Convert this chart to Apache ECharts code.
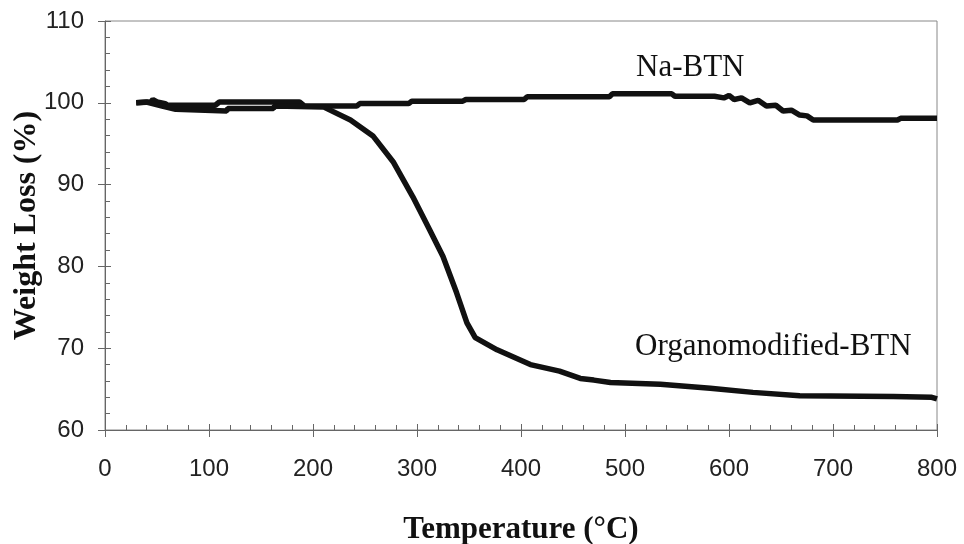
<!DOCTYPE html>
<html>
<head>
<meta charset="utf-8">
<script src="https://cdn.jsdelivr.net/npm/echarts@6/dist/echarts.min.js"></script>
<style>html,body{margin:0;padding:0;background:#fff}#c{width:964px;height:544px}</style>
</head>
<body>
<div id="c"></div>
<script>
// Na-BTN: [temperature °C, weight %]
const naTemp = [30,44,46,50,58,60,106,110,187,192,242,245,292,295,344,347,403,406,485,488,545,548,586,595,600,605,612,620,628,636,645,652,660,668,675,681,762,765,800];
const naWeight = [100,100.1,100.4,100.1,99.9,99.7,99.7,100.1,100.1,99.6,99.6,99.9,99.9,100.2,100.2,100.4,100.4,100.75,100.75,101.1,101.1,100.8,100.8,100.6,100.9,100.4,100.6,100.0,100.3,99.6,99.7,99.0,99.1,98.5,98.4,97.9,97.9,98.1,98.1];
// Organomodified-BTN
const orgTemp = [30,40,55,68,69,117,118,162,163,210,236,258,277,296,312,325,338,348,356,377,409,437,457,470,486,534,582,623,668,758,795,800];
const orgWeight = [100,100.1,99.6,99.2,99.0,99.0,99.3,99.3,99.6,99.5,97.9,95.9,92.8,88.5,84.5,81.2,76.8,73.1,71.3,69.8,68.0,67.2,66.3,66.1,65.8,65.6,65.1,64.6,64.2,64.1,64.0,63.8];
const xTicks = {min: 0, max: 800, interval: 100};
const yTicks = {min: 60, max: 110, interval: 10};
const seriesNames = ['Na-BTN', 'Organomodified-BTN'];

const pair = (xs, ys) => xs.map((x, i) => [x, ys[i]]);
const axisCol = '#666';
const chart = echarts.init(document.getElementById('c'));
chart.setOption({
  animation: false,
  grid: {left: 105, right: 27, top: 21, bottom: 114, containLabel: false, outerBoundsMode: 'none', show: true, borderColor: '#888', borderWidth: 1},
  xAxis: [{
    type: 'value', min: xTicks.min, max: xTicks.max, interval: xTicks.interval,
    name: 'Temperature (°C)', nameLocation: 'middle', nameGap: 84,
    nameTextStyle: {fontFamily: 'Liberation Serif', fontWeight: 'bold', fontSize: 31, color: '#111'},
    axisLine: {show: true, onZero: false, lineStyle: {color: axisCol, width: 1}},
    axisTick: {show: true, inside: false, length: 7, lineStyle: {color: axisCol}},
    axisLabel: {fontFamily: 'Liberation Sans', fontSize: 24, color: '#222', margin: 27},
    splitLine: {show: false}
  }, {
    type: 'value', position: 'bottom', min: xTicks.min, max: xTicks.max, interval: xTicks.interval,
    axisLine: {show: false}, axisLabel: {show: false},
    axisTick: {show: true, inside: true, length: 6, lineStyle: {color: axisCol}},
    minorTick: {show: true, splitNumber: 5, length: 5, lineStyle: {color: axisCol}},
    splitLine: {show: false}
  }],
  yAxis: [{
    type: 'value', min: yTicks.min, max: yTicks.max, interval: yTicks.interval,
    name: 'Weight Loss (%)', nameLocation: 'middle', nameGap: 62, nameMoveOverlap: false,
    nameTextStyle: {fontFamily: 'Liberation Serif', fontWeight: 'bold', fontSize: 32, color: '#111'},
    axisLine: {show: true, onZero: false, lineStyle: {color: axisCol, width: 1}},
    axisTick: {show: true, inside: false, length: 7, lineStyle: {color: axisCol}},
    axisLabel: {fontFamily: 'Liberation Sans', fontSize: 24, color: '#222', margin: 21},
    splitLine: {show: false}
  }, {
    type: 'value', position: 'left', min: yTicks.min, max: yTicks.max, interval: yTicks.interval,
    axisLine: {show: false}, axisLabel: {show: false},
    axisTick: {show: true, inside: true, length: 6, lineStyle: {color: axisCol}},
    minorTick: {show: true, splitNumber: 5, length: 5, lineStyle: {color: axisCol}},
    splitLine: {show: false}
  }],
  series: [{
    name: seriesNames[0], type: 'line', data: pair(naTemp, naWeight),
    showSymbol: false, symbol: 'none', lineStyle: {color: '#111', width: 5.5}, z: 3
  }, {
    name: seriesNames[1], type: 'line', data: pair(orgTemp, orgWeight),
    showSymbol: false, symbol: 'none', lineStyle: {color: '#111', width: 5.5}, z: 3
  }],
  graphic: [{
    type: 'text', left: 636, top: 52,
    style: {text: seriesNames[0], font: '31px "Liberation Serif"', fill: '#111'}
  }, {
    type: 'text', left: 635, top: 331,
    style: {text: seriesNames[1], font: '31px "Liberation Serif"', fill: '#111'}
  }]
});
</script>
</body>
</html>
